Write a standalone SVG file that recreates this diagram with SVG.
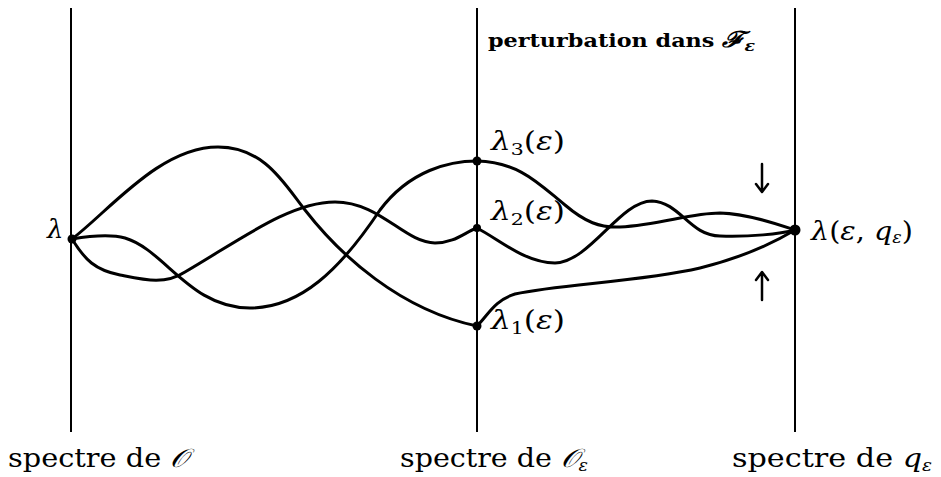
<svg xmlns="http://www.w3.org/2000/svg" width="941" height="477" viewBox="0 0 941 477">
<style>
.axis{stroke:#000;stroke-width:2;fill:none}
.curve{stroke:#000;stroke-width:3;fill:none;stroke-linecap:round}
.arr{stroke:#000;stroke-width:2.5;fill:none;stroke-linecap:round;stroke-linejoin:round}
.lbl{font-family:"DejaVu Serif","Liberation Serif",serif;font-size:26px;fill:#000}
.it{font-style:italic}
.bold{font-family:"DejaVu Serif","Liberation Serif",serif;font-weight:bold;font-size:18px;fill:#000}
</style>
<rect width="941" height="477" fill="#fff"/>
<g id="axes">
<line class="axis" x1="71" y1="8" x2="71" y2="432"/>
<line class="axis" x1="477" y1="8" x2="477" y2="432"/>
<line class="axis" x1="795" y1="8" x2="795" y2="432"/>
</g>
<g id="connectors">
<path class="curve" d="M72,239 C110,210 160,147 218,147 C265,147 285,185 305,210 C340,255 400,310 477,326"/>
<path class="curve" d="M72,239 C90,236 110,234 125,238 C165,250 190,308 250,308 C300,308 340,270 380,210 C410,170 450,161 477,161"/>
<path class="curve" d="M72,239 C85,260 95,270 120,275 C145,280 165,285 185,272 C240,240 290,202 335,202 C380,202 405,243 435,243 C455,243 465,232 477,228"/>
<path class="curve" d="M477,161 C520,162 540,185 565,205 C585,222 600,228 620,227 C660,225 690,213 720,213 C750,214 780,225 795,230"/>
<path class="curve" d="M477,228 C500,240 525,263 555,263 C590,262 620,201 652,201 C680,202 690,236 720,236 C750,237 780,234 795,230"/>
<path class="curve" d="M477,326 C488,315 495,300 515,294 C560,284 640,282 700,268 C740,258 770,245 795,230"/>
</g>
<g id="node-lambda">
<circle cx="72" cy="239" r="4.5"/>
<text class="lbl it" x="47" y="238">λ</text>
</g>
<g id="node-l3">
<circle cx="477" cy="161" r="4.5"/>
<text class="lbl" x="491" y="150" textLength="74" lengthAdjust="spacingAndGlyphs"><tspan class="it">λ</tspan><tspan font-size="17" dy="5">3</tspan><tspan dy="-5">(</tspan><tspan class="it">ε</tspan>)</text>
</g>
<g id="node-l2">
<circle cx="477" cy="228" r="4"/>
<text class="lbl" x="491" y="220" textLength="74" lengthAdjust="spacingAndGlyphs"><tspan class="it">λ</tspan><tspan font-size="17" dy="5">2</tspan><tspan dy="-5">(</tspan><tspan class="it">ε</tspan>)</text>
</g>
<g id="node-l1">
<circle cx="477" cy="326" r="4.5"/>
<text class="lbl" x="491" y="329" textLength="74" lengthAdjust="spacingAndGlyphs"><tspan class="it">λ</tspan><tspan font-size="17" dy="5">1</tspan><tspan dy="-5">(</tspan><tspan class="it">ε</tspan>)</text>
</g>
<g id="node-right">
<circle cx="795" cy="230" r="5.5"/>
<text class="lbl" x="811" y="240" textLength="102" lengthAdjust="spacingAndGlyphs"><tspan class="it">λ</tspan>(<tspan class="it">ε</tspan>, <tspan class="it">q</tspan><tspan class="it" font-size="16" dy="3">ε</tspan><tspan dy="-3">)</tspan></text>
</g>
<g id="arrows">
<path class="arr" d="M762,164 V191 M756,184 L762,192 L768,184"/>
<path class="arr" d="M762,300 V273 M756,280 L762,272 L768,280"/>
</g>
<g id="labels">
<text class="bold" x="488" y="47" textLength="267" lengthAdjust="spacingAndGlyphs">perturbation dans <tspan class="it" font-size="22">ℱ</tspan><tspan class="it" font-size="14" dy="4">ε</tspan></text>
<text class="lbl" x="8" y="467" textLength="180" lengthAdjust="spacingAndGlyphs">spectre de <tspan class="it">𝒪</tspan></text>
<text class="lbl" x="400" y="467" textLength="188" lengthAdjust="spacingAndGlyphs">spectre de <tspan class="it">𝒪</tspan><tspan class="it" font-size="16" dy="4">ε</tspan></text>
<text class="lbl" x="732" y="467" textLength="200" lengthAdjust="spacingAndGlyphs">spectre de <tspan class="it">q</tspan><tspan class="it" font-size="16" dy="4">ε</tspan></text>
</g>
</svg>
